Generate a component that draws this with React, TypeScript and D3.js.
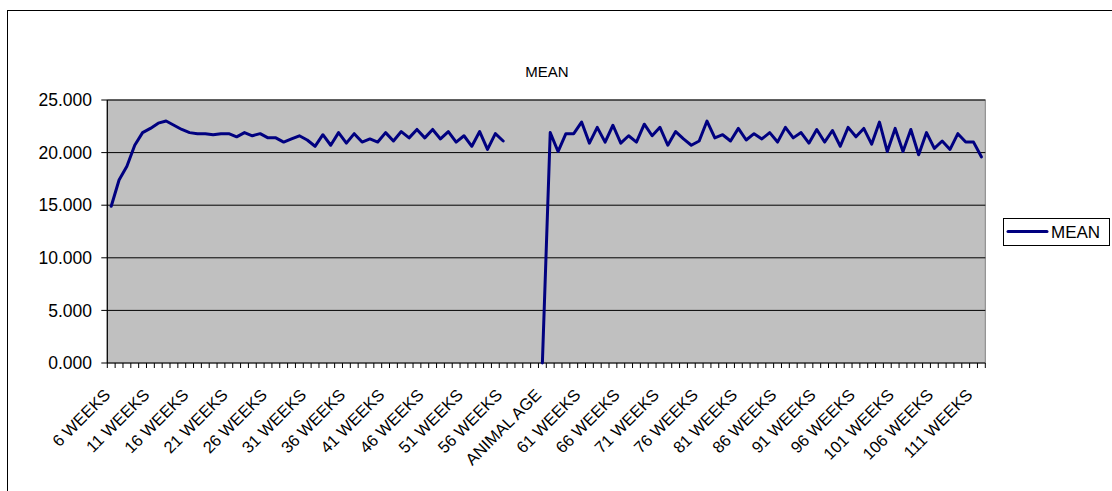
import React from "react";
import * as d3 from "d3";

const categories: string[] = [
  "6 WEEKS","7 WEEKS","8 WEEKS","9 WEEKS","10 WEEKS","11 WEEKS","12 WEEKS","13 WEEKS","14 WEEKS","15 WEEKS",
  "16 WEEKS","17 WEEKS","18 WEEKS","19 WEEKS","20 WEEKS","21 WEEKS","22 WEEKS","23 WEEKS","24 WEEKS","25 WEEKS",
  "26 WEEKS","27 WEEKS","28 WEEKS","29 WEEKS","30 WEEKS","31 WEEKS","32 WEEKS","33 WEEKS","34 WEEKS","35 WEEKS",
  "36 WEEKS","37 WEEKS","38 WEEKS","39 WEEKS","40 WEEKS","41 WEEKS","42 WEEKS","43 WEEKS","44 WEEKS","45 WEEKS",
  "46 WEEKS","47 WEEKS","48 WEEKS","49 WEEKS","50 WEEKS","51 WEEKS","52 WEEKS","53 WEEKS","54 WEEKS","55 WEEKS",
  "56 WEEKS","","","","","ANIMAL AGE","57 WEEKS","58 WEEKS","59 WEEKS","60 WEEKS",
  "61 WEEKS","62 WEEKS","63 WEEKS","64 WEEKS","65 WEEKS","66 WEEKS","67 WEEKS","68 WEEKS","69 WEEKS","70 WEEKS",
  "71 WEEKS","72 WEEKS","73 WEEKS","74 WEEKS","75 WEEKS","76 WEEKS","77 WEEKS","78 WEEKS","79 WEEKS","80 WEEKS",
  "81 WEEKS","82 WEEKS","83 WEEKS","84 WEEKS","85 WEEKS","86 WEEKS","87 WEEKS","88 WEEKS","89 WEEKS","90 WEEKS",
  "91 WEEKS","92 WEEKS","93 WEEKS","94 WEEKS","95 WEEKS","96 WEEKS","97 WEEKS","98 WEEKS","99 WEEKS","100 WEEKS",
  "101 WEEKS","102 WEEKS","103 WEEKS","104 WEEKS","105 WEEKS","106 WEEKS","107 WEEKS","108 WEEKS","109 WEEKS","110 WEEKS",
  "111 WEEKS","112 WEEKS",
];

const meanValues: (number | null)[] = [
  14.9, 17.4, 18.7, 20.7, 21.9, 22.3, 22.8, 23.0, 22.6, 22.2,
  21.9, 21.8, 21.8, 21.7, 21.8, 21.8, 21.5, 21.9, 21.6, 21.8,
  21.4, 21.4, 21.0, 21.3, 21.6, 21.2, 20.6, 21.7, 20.7, 21.9,
  20.9, 21.8, 21.0, 21.3, 21.0, 21.9, 21.1, 22.0, 21.4, 22.2,
  21.4, 22.2, 21.3, 22.0, 21.0, 21.6, 20.6, 22.0, 20.3, 21.8,
  21.1, null, null, null, null, 0, 21.9, 20.1, 21.8, 21.8,
  22.9, 20.9, 22.4, 21.0, 22.6, 20.9, 21.6, 21.0, 22.7, 21.6,
  22.4, 20.7, 22.0, 21.3, 20.7, 21.1, 23.0, 21.4, 21.7, 21.1,
  22.3, 21.2, 21.8, 21.3, 21.9, 21.0, 22.4, 21.4, 21.9, 20.9,
  22.2, 21.0, 22.1, 20.6, 22.4, 21.5, 22.3, 20.8, 22.9, 20.1,
  22.3, 20.1, 22.2, 19.8, 21.9, 20.4, 21.1, 20.3, 21.8, 21.0,
  21.0, 19.6,
];

const yTicks: number[] = [0, 5, 10, 15, 20, 25];
const labelEvery = 5;
const seriesName = "MEAN";
const chartTitle = "MEAN";

const FONT = "'Liberation Sans', Arial, sans-serif";

export default function App() {
  const W = 1112, H = 491;
  const left = 107.3, right = 985.3, top = 100, bottom = 363;

  const idx = categories.map((_, i) => i);
  const x = d3.scaleBand<number>().domain(idx).range([left, right]).padding(0);
  const bw = x.bandwidth();
  const cx = (i: number) => (x(i) as number) + bw / 2;
  const y = d3.scaleLinear().domain([0, 25]).range([bottom, top]);
  const fmt = d3.format(".3f");

  const line = d3
    .line<number | null>()
    .defined((d) => d !== null)
    .x((_, i) => cx(i))
    .y((d) => y(d as number));
  const path = line(meanValues) || "";

  const navy = "#000080";

  return (
    <svg
      width={W}
      height={H}
      style={{ position: "absolute", left: 0, top: 0, background: "#fff" }}
      fontFamily={FONT}
    >
      <rect x={0} y={0} width={W} height={H} fill="#fff" />
      {/* chart area border */}
      <rect x={7.5} y={10.5} width={1200} height={600} fill="none" stroke="#000" strokeWidth={1} />

      <text x={547} y={72} dy="0.35em" textAnchor="middle" fontSize={15} fill="#000">
        {chartTitle}
      </text>

      {/* plot area */}
      <rect x={left} y={top} width={right - left} height={bottom - top} fill="#C0C0C0" stroke="#808080" strokeWidth={1} />

      {/* gridlines */}
      {yTicks.filter((t) => t > 0).map((t) => (
        <line key={"g" + t} x1={left} x2={right} y1={y(t)} y2={y(t)} stroke="#000" strokeWidth={1} />
      ))}

      {/* y axis */}
      <line x1={left} x2={left} y1={top} y2={bottom} stroke="#000" strokeWidth={1.2} />
      {yTicks.map((t) => (
        <g key={"y" + t}>
          <line x1={left - 6} x2={left} y1={y(t)} y2={y(t)} stroke="#000" strokeWidth={1} />
          <text x={92} y={y(t)} dy="0.35em" textAnchor="end" fontSize={17.5} fill="#000">
            {fmt(t)}
          </text>
        </g>
      ))}

      {/* x axis */}
      <line x1={left} x2={right} y1={bottom} y2={bottom} stroke="#000" strokeWidth={1.2} />
      {d3.range(categories.length + 1).map((k) => (
        <line key={"t" + k} x1={left + k * bw} x2={left + k * bw} y1={bottom} y2={bottom + 5} stroke="#000" strokeWidth={1} />
      ))}
      {idx
        .filter((i) => i % labelEvery === 0)
        .map((i) => (
          <text
            key={"l" + i}
            transform={`translate(${cx(i)},${bottom + 33}) rotate(-45)`}
            textAnchor="end"
            fontSize={16.5}
            fill="#000"
          >
            {categories[i]}
          </text>
        ))}

      {/* series */}
      <path d={path} fill="none" stroke={navy} strokeWidth={3} strokeLinejoin="round" strokeLinecap="round" />

      {/* legend */}
      <rect x={1003.5} y={218.5} width={106} height={27} fill="#fff" stroke="#000" strokeWidth={1} />
      <line x1={1008} x2={1047} y1={231.5} y2={231.5} stroke={navy} strokeWidth={3} strokeLinecap="round" />
      <text x={1051} y={232} dy="0.35em" fontSize={17} fill="#000">
        {seriesName}
      </text>
    </svg>
  );
}
